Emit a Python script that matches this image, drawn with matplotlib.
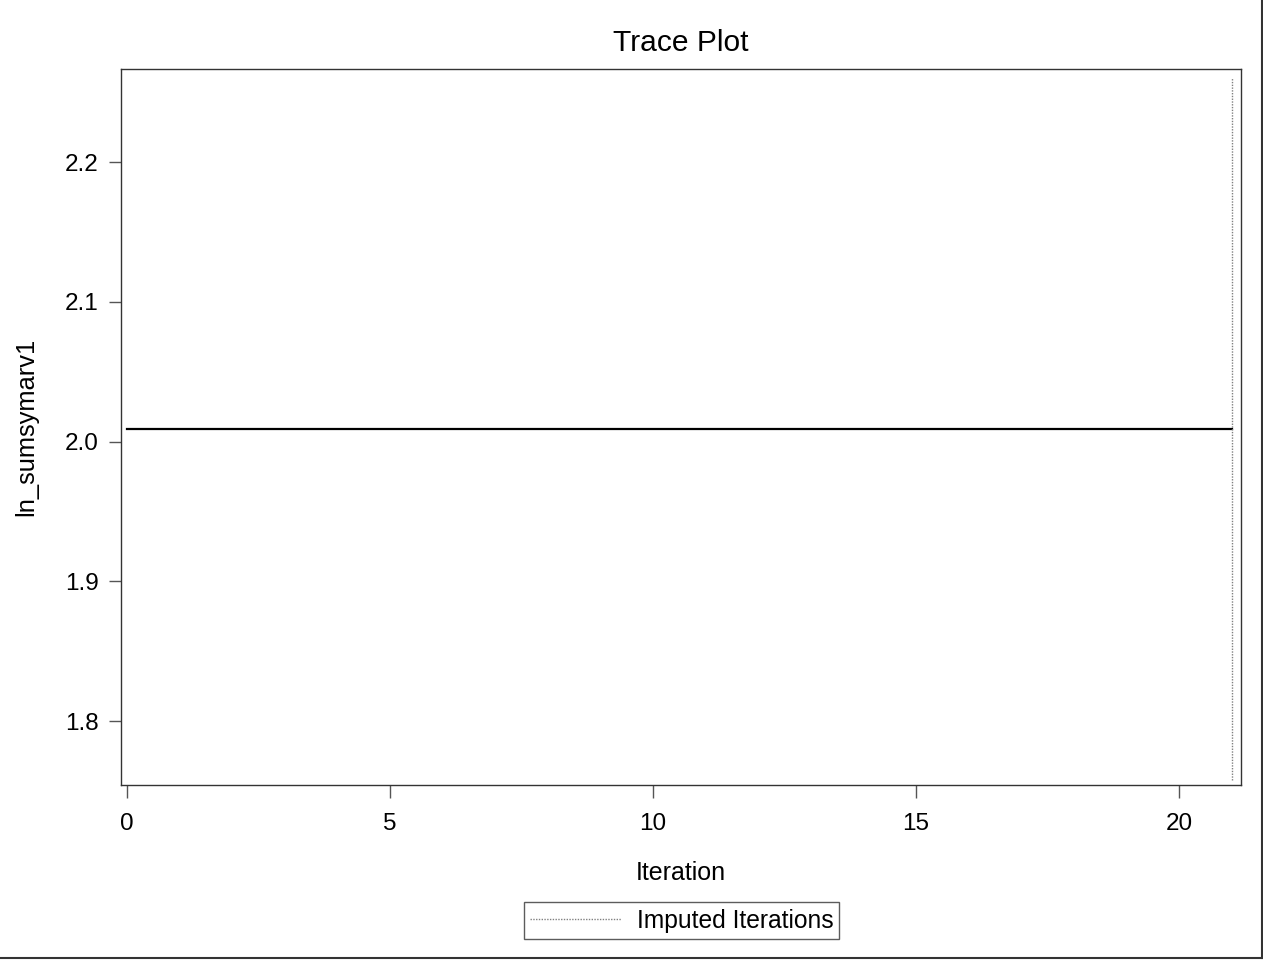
import matplotlib.pyplot as plt
from matplotlib.lines import Line2D

plt.rcParams['font.family'] = ['Liberation Sans', 'DejaVu Sans']

# trace of the imputed variable over the iterations
iterations = [0, 21]
trace_values = [2.0093, 2.0093]
imputed_iter = 21
imputed_span = [1.758, 2.26]

fig = plt.figure(figsize=(12.63, 9.61), dpi=100)
ax = fig.add_axes([0.0958, 0.1831, 0.8868, 0.7451])

ax.plot(iterations, trace_values, color='black', lw=1.6)
ax.vlines(imputed_iter, imputed_span[0], imputed_span[1], colors='#808080',
          linestyles=(0, (1, 1)), lw=1.0)

ax.set_xlim(-0.114, 21.18)
ax.set_ylim(1.7542, 2.2666)
ax.set_xticks([0, 5, 10, 15, 20])
ax.set_yticks([1.8, 1.9, 2.0, 2.1, 2.2])
ax.set_yticklabels(['1.8', '1.9', '2.0', '2.1', '2.2'])
ax.tick_params(direction='out', length=9, width=1, color='#555555',
               labelsize=17.5)
ax.tick_params(axis='x', pad=11)
ax.tick_params(axis='y', pad=7)
for s in ax.spines.values():
    s.set_color('#333333')
    s.set_linewidth(1.0)

ax.set_title('Trace Plot', fontsize=21.6, pad=13)
ax.set_xlabel('Iteration', fontsize=18, labelpad=19)
ax.set_ylabel('ln_sumsymarv1', fontsize=18.4, labelpad=19)

handle = Line2D([], [], color='#808080', linestyle=(0, (1, 1)), lw=1.0)
leg = fig.legend([handle], ['Imputed Iterations'], loc='center',
                 bbox_to_anchor=(0.5396, 0.0421), fontsize=17.7, frameon=True,
                 fancybox=False, handlelength=3.7, handletextpad=0.65,
                 borderpad=0.25, borderaxespad=0)
leg.get_frame().set_edgecolor('#333333')
leg.get_frame().set_linewidth(1.0)

# outer border on the right and bottom edges
fig.add_artist(Line2D([0.9992, 0.9992], [0.003, 1.0], color='#333333', lw=1.5,
                      transform=fig.transFigure))
fig.add_artist(Line2D([0.0, 0.9992], [0.003, 0.003], color='#333333', lw=1.5,
                      transform=fig.transFigure))

fig.savefig('out.png', dpi=100)
